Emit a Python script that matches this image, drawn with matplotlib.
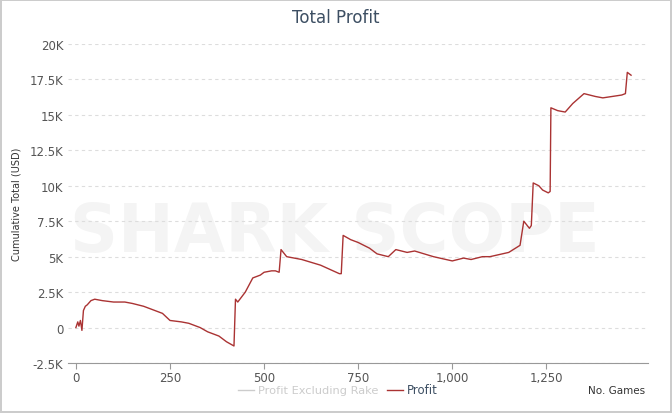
import matplotlib
matplotlib.use("Agg")
import matplotlib.pyplot as plt

games = [0, 5, 8, 12, 16, 20, 25, 30, 40, 50, 70, 100, 130, 150, 180, 200, 230, 250, 280, 300, 330, 350,
         380, 400, 420, 424, 430, 450, 460, 470, 490, 500, 520, 530, 540, 545, 560, 600, 650, 700, 705,
         710, 730, 750, 780, 800, 830, 850, 880, 900, 950, 1000, 1030, 1050, 1080, 1100, 1150, 1180,
         1190, 1205, 1210, 1215, 1230, 1240, 1255, 1260, 1262, 1280, 1300, 1320, 1350, 1380, 1400,
         1450, 1460, 1465, 1470, 1475]
profit_k = [0, 0.4, 0.1, 0.5, -0.2, 1.2, 1.5, 1.6, 1.9, 2.0, 1.9, 1.8, 1.8, 1.7, 1.5, 1.3, 1.0, 0.5,
            0.4, 0.3, 0.0, -0.3, -0.6, -1.0, -1.3, 2.0, 1.8, 2.5, 3.0, 3.5, 3.7, 3.9, 4.0, 4.0, 3.9,
            5.5, 5.0, 4.8, 4.4, 3.8, 3.8, 6.5, 6.2, 6.0, 5.6, 5.2, 5.0, 5.5, 5.3, 5.4, 5.0, 4.7, 4.9,
            4.8, 5.0, 5.0, 5.3, 5.8, 7.5, 7.0, 7.2, 10.2, 10.0, 9.7, 9.5, 9.6, 15.5, 15.3, 15.2, 15.8,
            16.5, 16.3, 16.2, 16.4, 16.5, 18.0, 17.9, 17.8]
yticks = [-2.5, 0, 2.5, 5, 7.5, 10, 12.5, 15, 17.5, 20]
ytick_labels = ["-2.5K", "0", "2.5K", "5K", "7.5K", "10K", "12.5K", "15K", "17.5K", "20K"]
xticks = [0, 250, 500, 750, 1000, 1250]
xtick_labels = ["0", "250", "500", "750", "1,000", "1,250"]

fig = plt.figure(figsize=(6.72, 4.14), dpi=100)
fig.patch.set_edgecolor("#cccccc")
fig.patch.set_linewidth(1.5)
ax = fig.add_axes([68/672, 1-364/414, (648-68)/672, (364-45)/414])
ax.set_facecolor("none")
ax.plot(games, profit_k, color="#aa3333", lw=1)
ax.set_xlim(-21, 1520)
ax.set_ylim(-2.5, 20)
ax.set_yticks(yticks)
ax.set_yticklabels(ytick_labels)
ax.set_xticks(xticks)
ax.set_xticklabels(xtick_labels)
ax.grid(axis="y", color="#dddddd", ls=(0, (3, 3)), lw=0.8)
for s in ["top", "right", "left"]:
    ax.spines[s].set_visible(False)
ax.spines["bottom"].set_color("#999999")
ax.tick_params(axis="y", length=0, labelsize=8.5, colors="#555555")
ax.tick_params(axis="x", length=4, pad=1.5, color="#999999", labelsize=8.5, colors="#555555")
ax.set_ylabel("Cumulative Total (USD)", fontsize=7, color="#333333", labelpad=6)
ax.text(0.46, 0.41, "SHARK SCOPE", transform=ax.transAxes, ha="center", va="center",
        fontsize=48, fontweight="bold", color="#000000", alpha=0.045, zorder=0)
fig.text(0.5, 1-18/414, "Total Profit", ha="center", va="center", fontsize=12, color="#3d4f63")
fig.text(645/672, 1-391/414, "No. Games", ha="right", va="center", fontsize=7.5, color="#333333")
fig.add_artist(plt.Line2D([238/672, 254/672], [1-391/414]*2, color="#cccccc", lw=1))
fig.text(258/672, 1-391/414, "Profit Excluding Rake", va="center", fontsize=8.2, color="#cccccc")
fig.add_artist(plt.Line2D([387/672, 403/672], [1-391/414]*2, color="#aa3333", lw=1))
fig.text(407/672, 1-391/414, "Profit", va="center", fontsize=8.5, color="#3d4f63")
fig.savefig("out.png", dpi=100)
